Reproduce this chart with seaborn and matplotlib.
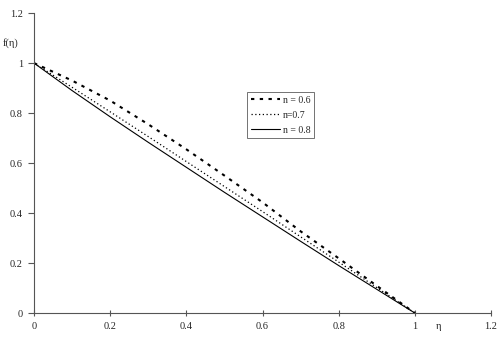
import matplotlib
matplotlib.use("Agg")
import matplotlib.pyplot as plt
import seaborn as sns

# --- data ---
eta = [0.0, 0.1, 0.2, 0.3, 0.4, 0.5, 0.6, 0.7, 0.8, 0.9, 1.0]
f_n06 = [1.0, 0.93, 0.85, 0.755, 0.655, 0.55, 0.443, 0.327, 0.219, 0.109, 0.0]
f_n07 = [1.0, 0.903, 0.805, 0.706, 0.606, 0.506, 0.406, 0.305, 0.204, 0.102, 0.0]
f_n08 = [1.0, 0.89, 0.785, 0.683, 0.583, 0.483, 0.385, 0.287, 0.19, 0.095, 0.0]
labels = ["n = 0.6", "n=0.7", "n = 0.8"]
x_ticks = [0, 0.2, 0.4, 0.6, 0.8, 1, 1.2]
y_ticks = [0, 0.2, 0.4, 0.6, 0.8, 1, 1.2]


def main():
	sns.set_style("ticks")
	plt.rcParams["font.family"] = ["Liberation Serif", "DejaVu Serif"]

	fig = plt.figure(figsize=(5, 3.44), dpi=100)
	ax = fig.add_axes([0.068, 0.090, 0.914, 0.872])

	sns.lineplot(x=eta, y=f_n06, ax=ax, color="black", lw=1.5,
		linestyle=(0, (1.6, 2.6)), label=labels[0])
	sns.lineplot(x=eta, y=f_n07, ax=ax, color="black", lw=0.9,
		linestyle=(0, (1, 2)), label=labels[1])
	sns.lineplot(x=eta, y=f_n08, ax=ax, color="black", lw=0.8,
		linestyle="-", label=labels[2])

	ax.set_xlim(0, 1.2)
	ax.set_ylim(0, 1.2)
	ax.set_xticks(x_ticks)
	ax.set_yticks(y_ticks)
	ax.set_xticklabels([f"{t:g}" for t in x_ticks])
	ax.set_yticklabels([f"{t:g}" for t in y_ticks])
	ax.tick_params(axis="x", direction="inout", length=5, width=0.8,
		labelsize=7.5, pad=4, color="#555555")
	ax.tick_params(axis="y", direction="out", length=4, width=0.8,
		labelsize=7.5, pad=4, color="#555555")
	for s in ["top", "right"]:
		ax.spines[s].set_visible(False)
	for s in ["left", "bottom"]:
		ax.spines[s].set_color("#555555")
		ax.spines[s].set_linewidth(0.8)

	ax.text(1.055, -0.035, "η", fontsize=7.5, ha="left", va="top")
	fig.text(0.006, 0.875, "f(η)", fontsize=7.5, ha="left", va="center")

	leg = ax.legend(loc="upper left", bbox_to_anchor=(0.466, 0.737),
		fontsize=7, frameon=True, fancybox=False, handlelength=3,
		borderpad=0.4, labelspacing=0.6, handletextpad=0.3, borderaxespad=0)
	leg.get_frame().set_edgecolor("#333333")
	leg.get_frame().set_linewidth(0.6)

	fig.savefig("out.png", dpi=100)


if __name__ == "__main__":
	main()
